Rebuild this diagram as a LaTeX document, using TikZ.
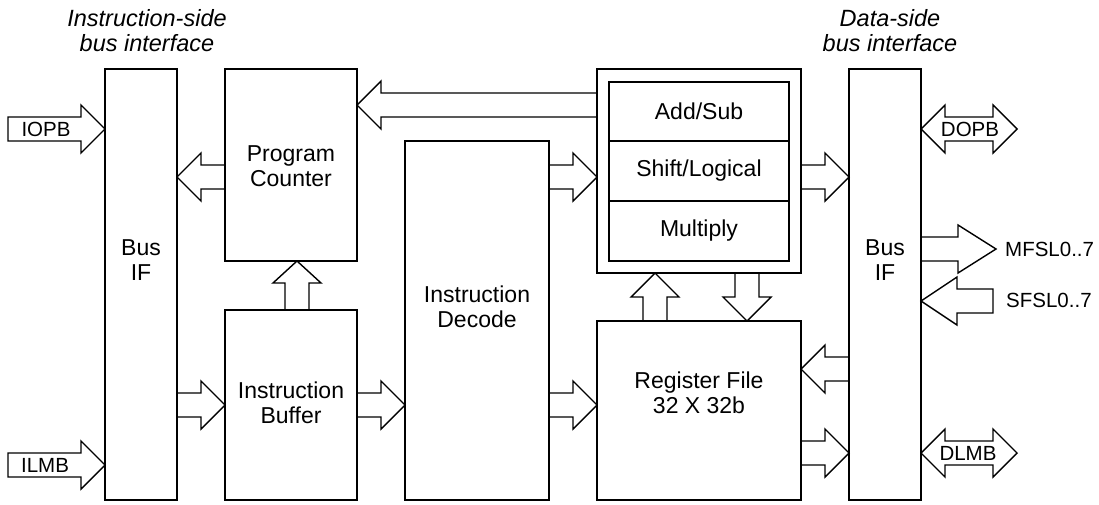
\documentclass[tikz,border=0pt]{standalone}
\usepackage{fontspec}
\setmainfont{Liberation Sans}
\usetikzlibrary{calc}
% single fat arrow: [head length]{tail}{tip}
\newcommand\fatarr[3][24pt]{%
  \coordinate (fh) at ($(#3)!#1!(#2)$);
  \draw[fat] ($(#2)!12pt!90:(#3)$) -- ($(fh)!12pt!90:(#3)$) -- ($(fh)!24pt!90:(#3)$) -- (#3)
     -- ($(fh)!24pt!-90:(#3)$) -- ($(fh)!12pt!-90:(#3)$) -- ($(#2)!12pt!-90:(#3)$) -- cycle;
}
% double fat arrow
\newcommand\fatdbl[2]{%
  \coordinate (fa) at ($(#1)!24pt!(#2)$);
  \coordinate (fb) at ($(#2)!24pt!(#1)$);
  \draw[fat] (#1) -- ($(fa)!24pt!90:(#2)$) -- ($(fa)!12pt!90:(#2)$) -- ($(fb)!12pt!90:(#2)$)
     -- ($(fb)!24pt!90:(#2)$) -- (#2) -- ($(fb)!24pt!-90:(#2)$) -- ($(fb)!12pt!-90:(#2)$)
     -- ($(fa)!12pt!-90:(#2)$) -- ($(fa)!24pt!-90:(#2)$) -- cycle;
}
\begin{document}
\begin{tikzpicture}[x=1pt,y=-1pt,
  box/.style={draw,line width=2.8pt,inner sep=0pt,outer sep=0pt},
  cell/.style={draw,line width=1.6pt,inner sep=0pt,outer sep=0pt,minimum width=180pt,font=\fontsize{23}{25}\selectfont},
  fat/.style={line width=1.4pt,line join=miter},
  txt/.style={font=\fontsize{23}{25}\selectfont,align=center,inner sep=0pt},
  lab/.style={font=\fontsize{20.5}{24}\selectfont,inner sep=0pt},
  hdr/.style={font=\fontsize{23.5}{25}\selectfont\itshape,align=center,inner sep=0pt}]
\useasboundingbox (0,0) rectangle (1099,504);

% boxes
\node[box,minimum width=72pt,minimum height=431pt] (busL) at (141,284.5) {};
\node[box,minimum width=132pt,minimum height=192pt] (pc) at (291,165) {};
\node[box,minimum width=132pt,minimum height=190pt] (ib) at (291,405) {};
\node[box,minimum width=144pt,minimum height=359pt] (id) at (477,320.5) {};
\node[box,minimum width=204pt,minimum height=204pt] (alu) at (699,171) {};
\node[cell,minimum height=59pt] (add) at (699,111.5) {Add/Sub};
\node[cell,minimum height=60pt] (shift) at (699,171) {Shift/Logical};
\node[cell,minimum height=60pt] (mult) at (699,231) {Multiply};
\node[box,minimum width=204pt,minimum height=179pt] (rf) at (699,410.5) {};
\node[box,minimum width=72pt,minimum height=431pt] (busR) at (885,284.5) {};

% texts
\node[txt] (busLt) at (141,260) {Bus\\IF};
\node[txt] (pct) at (291,166) {Program\\Counter};
\node[txt] (ibt) at (291,403) {Instruction\\Buffer};
\node[txt] (idt) at (477,307) {Instruction\\Decode};
\node[txt] (rft) at (699,393) {Register File\\32 X 32b};
\node[txt] (busRt) at (885,260) {Bus\\IF};
\node[hdr] (h1) at (147,31) {Instruction-side\\bus interface};
\node[hdr] (h2) at (890,31) {Data-side\\bus interface};

% arrow end points
\coordinate (iopbT) at (8,129);
\coordinate (iopbH) at (busL.west |- 0,129);
\coordinate (ilmbT) at (8,465);
\coordinate (ilmbH) at (busL.west |- 0,465);
\coordinate (pcO) at (pc.west |- 0,177);
\coordinate (busLi) at (busL.east |- 0,177);
\coordinate (busLo) at (busL.east |- 0,405);
\coordinate (ibIn) at (ib.west |- 0,405);
\coordinate (ibUp) at (ib.north -| 297,0);
\coordinate (pcIn) at (pc.south -| 297,0);
\coordinate (ibOut) at (ib.east |- 0,405);
\coordinate (idIn) at (id.west |- 0,405);
\coordinate (aluPc) at (alu.west |- 0,105);
\coordinate (pcAlu) at (pc.east |- 0,105);
\coordinate (idOut1) at (id.east |- 0,177);
\coordinate (aluIn) at (alu.west |- 0,177);
\coordinate (aluOut) at (alu.east |- 0,177);
\coordinate (busRin) at (busR.west |- 0,177);
\coordinate (rfUp) at (rf.north -| 655,0);
\coordinate (aluUp) at (alu.south -| 655,0);
\coordinate (aluDn) at (alu.south -| 747,0);
\coordinate (rfDn) at (rf.north -| 747,0);
\coordinate (idOut2) at (id.east |- 0,405);
\coordinate (rfIn) at (rf.west |- 0,405);
\coordinate (busRo) at (busR.west |- 0,369);
\coordinate (rfIn2) at (rf.east |- 0,369);
\coordinate (rfOut) at (rf.east |- 0,453);
\coordinate (busRin2) at (busR.west |- 0,453);
\coordinate (dopbA) at (busR.east |- 0,129);
\coordinate (dopbB) at (1017,129);
\coordinate (dlmbA) at (busR.east |- 0,453);
\coordinate (dlmbB) at (1017,453);
\coordinate (mfslA) at (busR.east |- 0,249);
\coordinate (mfslB) at (996,249);
\coordinate (sfslA) at (993,301);
\coordinate (sfslB) at (busR.east |- 0,301);

% fat arrows
\fatarr{iopbT}{iopbH}
\fatarr{ilmbT}{ilmbH}
\fatarr{pcO}{busLi}
\fatarr{busLo}{ibIn}
\fatarr[22pt]{ibUp}{pcIn}
\fatarr{ibOut}{idIn}
\fatarr{aluPc}{pcAlu}
\fatarr{idOut1}{aluIn}
\fatarr{aluOut}{busRin}
\fatarr{rfUp}{aluUp}
\fatarr{aluDn}{rfDn}
\fatarr{idOut2}{rfIn}
\fatarr{busRo}{rfIn2}
\fatarr{rfOut}{busRin2}
\fatdbl{dopbA}{dopbB}
\fatdbl{dlmbA}{dlmbB}
\fatarr[38pt]{mfslA}{mfslB}
\fatarr[36pt]{sfslA}{sfslB}

% arrow labels
\node[lab] (iopb) at (46,129) {IOPB};
\node[lab] (ilmb) at (45,465) {ILMB};
\node[lab] (dopb) at (970,129) {DOPB};
\node[lab] (dlmb) at (968,453) {DLMB};
\node[lab,anchor=west] (mfsl) at (1005,249) {MFSL0..7};
\node[lab,anchor=west] (sfsl) at (1006,300) {SFSL0..7};
\end{tikzpicture}
\end{document}
